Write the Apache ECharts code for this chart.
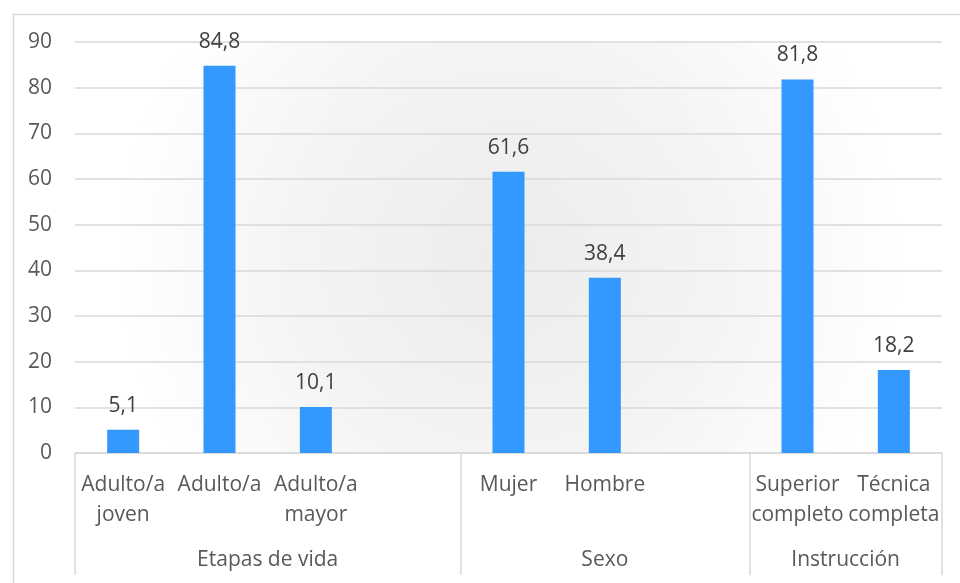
<!DOCTYPE html>
<html>
<head>
<meta charset="utf-8">
<script src="https://cdn.jsdelivr.net/npm/echarts@6/dist/echarts.min.js"></script>
<style>
  html, body { margin: 0; padding: 0; background: #ffffff; }
  #chart { width: 960px; height: 583px; }
</style>
</head>
<body>
<div id="chart"></div>
<script>
// Category labels per slot (empty slots separate the groups)
const categories = ['Adulto/a\njoven', 'Adulto/a', 'Adulto/a\nmayor', '', 'Mujer', 'Hombre', '', 'Superior\ncompleto', 'Técnica\ncompleta'];
// Percentages per slot
const values = [5.1, 84.8, 10.1, null, 61.6, 38.4, null, 81.8, 18.2];
// Group names and how many slots each group spans
const groupNames = ['Etapas de vida', 'Sexo', 'Instrucción'];
const groupSpans = [4, 3, 2];
// Y axis range and step
const yMin = 0, yMax = 90, yStep = 10;

// Slot index where each group starts (used for separator ticks)
const groupStarts = [];
let acc = 0;
groupSpans.forEach(s => { groupStarts.push(acc); acc += s; });

// Half-slot positions for the group caption axis: caption sits at the centre of its span
const halfSlots = new Array(categories.length * 2 + 1).fill('');
groupStarts.forEach((st, i) => { halfSlots[st * 2 + groupSpans[i]] = groupNames[i]; });

const font = '"Open Sans", "DejaVu Sans", sans-serif';
const gridColor = '#d9d9d9';
const fs = 21;

const chart = echarts.init(document.getElementById('chart'), null, { renderer: 'canvas' });
chart.setOption({
  animation: false,
  backgroundColor: '#ffffff',
  textStyle: { fontFamily: font },
  graphic: [{
    type: 'rect', left: 11, top: 12, z: -10,
    shape: { width: 1000, height: 1000 },
    style: { fill: 'none', stroke: '#d9d9d9', lineWidth: 1.5 }
  }],
  grid: {
    left: 75, right: 18, top: 42, bottom: 130,
    show: true, borderWidth: 0,
    backgroundColor: {
      type: 'radial', x: 0.5, y: 0.52, r: 0.95,
      colorStops: [
        { offset: 0, color: '#ececec' },
        { offset: 0.55, color: '#f4f4f4' },
        { offset: 1, color: '#ffffff' }
      ]
    }
  },
  xAxis: [{
    type: 'category',
    data: categories,
    boundaryGap: true,
    axisLine: { show: true, lineStyle: { color: gridColor, width: 1.5 } },
    axisTick: {
      show: true, length: 122,
      interval: (i) => groupStarts.includes(i),
      lineStyle: { color: gridColor, width: 1.5 }
    },
    axisLabel: {
      interval: 0, margin: 17, color: '#595959',
      fontFamily: font, fontSize: fs, lineHeight: 30, verticalAlign: 'top'
    },
    splitLine: { show: false }
  }, {
    type: 'category',
    data: halfSlots,
    boundaryGap: false,
    position: 'bottom',
    axisLine: { show: false },
    axisTick: { show: false },
    axisLabel: {
      interval: 0, margin: 92, color: '#595959',
      fontFamily: font, fontSize: fs, lineHeight: 30, verticalAlign: 'top'
    },
    splitLine: { show: false }
  }],
  yAxis: {
    type: 'value',
    min: yMin, max: yMax, interval: yStep,
    axisLine: { show: false },
    axisTick: { show: false },
    axisLabel: { margin: 23, color: '#595959', fontFamily: font, fontSize: fs },
    splitLine: { lineStyle: { color: gridColor, width: 1.5 } }
  },
  series: [{
    type: 'bar',
    xAxisIndex: 0,
    data: values,
    barWidth: 32,
    itemStyle: { color: '#3399ff' },
    label: {
      show: true, position: 'top', distance: 11,
      color: '#404040', fontFamily: font, fontSize: fs, lineHeight: 26,
      formatter: p => p.value == null ? '' : p.value.toFixed(1).replace('.', ',')
    }
  }]
});
</script>
</body>
</html>
